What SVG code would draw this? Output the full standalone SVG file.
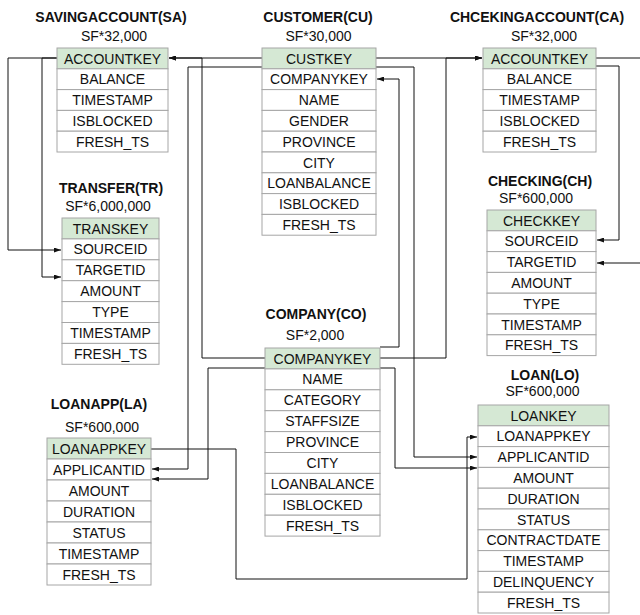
<svg xmlns="http://www.w3.org/2000/svg" width="640" height="615" viewBox="0 0 640 615">
<style>
.bg{fill:#fff}
.r{fill:#fff;stroke:#a6a6a6;stroke-width:1}
.k{fill:#d5e8d4;stroke:#a6a6a6;stroke-width:1}
.t{font-family:"Liberation Sans",Arial,sans-serif;font-size:14px;fill:#111;text-anchor:middle}
.h{font-family:"Liberation Sans",Arial,sans-serif;font-size:14px;font-weight:bold;fill:#111;text-anchor:middle}
.c{fill:none;stroke:#111;stroke-width:1}
.a{marker-end:url(#arr)}
</style>
<defs>
<marker id="arr" viewBox="0 0 7 5" refX="7" refY="2.5" markerWidth="7" markerHeight="5" orient="auto" markerUnits="userSpaceOnUse"><path d="M0,0 L7,2.5 L0,5 z" fill="#111"/></marker>
</defs>
<rect class="bg" x="0" y="0" width="640" height="615"/>
<g id="connectors">
<path class="c a" d="M57,58 H8 V250 H61"/>
<path class="c a" d="M57,58 H42 V277 H61"/>
<path class="c a" d="M262,58 H169"/>
<path class="c a" d="M265,358 H202 V58 H169"/>
<path class="c a" d="M376,58 H482"/>
<path class="c a" d="M380,358 H446 V58 H482"/>
<path class="c a" d="M596,66 H619 V240 H597"/>
<path class="c a" d="M596,58 H650 V263 H597"/>
<path class="c a" d="M380,347 H399 V79 H377"/>
<path class="c a" d="M262,67 H188 V469 H152"/>
<path class="c a" d="M265,368 H208 V479 H152"/>
<path class="c a" d="M380,368 H395 V468 H477"/>
<path class="c a" d="M376,67 H414 V457 H477"/>
<path class="c a" d="M151,449 H236 V579 H467 V437 H477"/>
</g>
<g id="SA">
<text class="h" x="111" y="22">SAVINGACCOUNT(SA)</text>
<text class="t" x="114" y="41">SF*32,000</text>
<rect class="k" x="57" y="48" width="111" height="20.8"/><text class="t" x="112.5" y="63.5">ACCOUNTKEY</text>
<rect class="r" x="57" y="68.8" width="111" height="20.8"/><text class="t" x="112.5" y="84.3">BALANCE</text>
<rect class="r" x="57" y="89.6" width="111" height="20.8"/><text class="t" x="112.5" y="105.1">TIMESTAMP</text>
<rect class="r" x="57" y="110.4" width="111" height="20.8"/><text class="t" x="112.5" y="125.9">ISBLOCKED</text>
<rect class="r" x="57" y="131.2" width="111" height="20.8"/><text class="t" x="112.5" y="146.7">FRESH_TS</text>
</g>
<g id="CU">
<text class="h" x="318" y="22">CUSTOMER(CU)</text>
<text class="t" x="318.5" y="41">SF*30,000</text>
<rect class="k" x="262" y="48" width="114" height="20.8"/><text class="t" x="319" y="63.5">CUSTKEY</text>
<rect class="r" x="262" y="68.8" width="114" height="20.8"/><text class="t" x="319" y="84.3">COMPANYKEY</text>
<rect class="r" x="262" y="89.6" width="114" height="20.8"/><text class="t" x="319" y="105.1">NAME</text>
<rect class="r" x="262" y="110.4" width="114" height="20.8"/><text class="t" x="319" y="125.9">GENDER</text>
<rect class="r" x="262" y="131.2" width="114" height="20.8"/><text class="t" x="319" y="146.7">PROVINCE</text>
<rect class="r" x="262" y="152" width="114" height="20.8"/><text class="t" x="319" y="167.5">CITY</text>
<rect class="r" x="262" y="172.8" width="114" height="20.8"/><text class="t" x="319" y="188.3">LOANBALANCE</text>
<rect class="r" x="262" y="193.6" width="114" height="20.8"/><text class="t" x="319" y="209.1">ISBLOCKED</text>
<rect class="r" x="262" y="214.4" width="114" height="20.8"/><text class="t" x="319" y="229.9">FRESH_TS</text>
</g>
<g id="CA">
<text class="h" x="537" y="22">CHCEKINGACCOUNT(CA)</text>
<text class="t" x="544" y="41">SF*32,000</text>
<rect class="k" x="483" y="48" width="113" height="20.8"/><text class="t" x="539.5" y="63.5">ACCOUNTKEY</text>
<rect class="r" x="483" y="68.8" width="113" height="20.8"/><text class="t" x="539.5" y="84.3">BALANCE</text>
<rect class="r" x="483" y="89.6" width="113" height="20.8"/><text class="t" x="539.5" y="105.1">TIMESTAMP</text>
<rect class="r" x="483" y="110.4" width="113" height="20.8"/><text class="t" x="539.5" y="125.9">ISBLOCKED</text>
<rect class="r" x="483" y="131.2" width="113" height="20.8"/><text class="t" x="539.5" y="146.7">FRESH_TS</text>
</g>
<g id="TR">
<text class="h" x="111" y="193">TRANSFER(TR)</text>
<text class="t" x="108" y="211">SF*6,000,000</text>
<rect class="k" x="62" y="218" width="97" height="20.9"/><text class="t" x="110.5" y="233.5">TRANSKEY</text>
<rect class="r" x="62" y="238.9" width="97" height="20.9"/><text class="t" x="110.5" y="254.4">SOURCEID</text>
<rect class="r" x="62" y="259.8" width="97" height="20.9"/><text class="t" x="110.5" y="275.3">TARGETID</text>
<rect class="r" x="62" y="280.7" width="97" height="20.9"/><text class="t" x="110.5" y="296.2">AMOUNT</text>
<rect class="r" x="62" y="301.6" width="97" height="20.9"/><text class="t" x="110.5" y="317.1">TYPE</text>
<rect class="r" x="62" y="322.5" width="97" height="20.9"/><text class="t" x="110.5" y="338">TIMESTAMP</text>
<rect class="r" x="62" y="343.4" width="97" height="20.9"/><text class="t" x="110.5" y="358.9">FRESH_TS</text>
</g>
<g id="CH">
<text class="h" x="540" y="186">CHECKING(CH)</text>
<text class="t" x="536" y="203">SF*600,000</text>
<rect class="k" x="487" y="210" width="109" height="20.8"/><text class="t" x="541.5" y="225.5">CHECKKEY</text>
<rect class="r" x="487" y="230.8" width="109" height="20.8"/><text class="t" x="541.5" y="246.3">SOURCEID</text>
<rect class="r" x="487" y="251.6" width="109" height="20.8"/><text class="t" x="541.5" y="267.1">TARGETID</text>
<rect class="r" x="487" y="272.4" width="109" height="20.8"/><text class="t" x="541.5" y="287.9">AMOUNT</text>
<rect class="r" x="487" y="293.2" width="109" height="20.8"/><text class="t" x="541.5" y="308.7">TYPE</text>
<rect class="r" x="487" y="314" width="109" height="20.8"/><text class="t" x="541.5" y="329.5">TIMESTAMP</text>
<rect class="r" x="487" y="334.8" width="109" height="20.8"/><text class="t" x="541.5" y="350.3">FRESH_TS</text>
</g>
<g id="CO">
<text class="h" x="316" y="319">COMPANY(CO)</text>
<text class="t" x="315" y="340">SF*2,000</text>
<rect class="k" x="265" y="348" width="115" height="20.9"/><text class="t" x="322.5" y="363.5">COMPANYKEY</text>
<rect class="r" x="265" y="368.9" width="115" height="20.9"/><text class="t" x="322.5" y="384.4">NAME</text>
<rect class="r" x="265" y="389.8" width="115" height="20.9"/><text class="t" x="322.5" y="405.3">CATEGORY</text>
<rect class="r" x="265" y="410.7" width="115" height="20.9"/><text class="t" x="322.5" y="426.2">STAFFSIZE</text>
<rect class="r" x="265" y="431.6" width="115" height="20.9"/><text class="t" x="322.5" y="447.1">PROVINCE</text>
<rect class="r" x="265" y="452.5" width="115" height="20.9"/><text class="t" x="322.5" y="468">CITY</text>
<rect class="r" x="265" y="473.4" width="115" height="20.9"/><text class="t" x="322.5" y="488.9">LOANBALANCE</text>
<rect class="r" x="265" y="494.3" width="115" height="20.9"/><text class="t" x="322.5" y="509.8">ISBLOCKED</text>
<rect class="r" x="265" y="515.2" width="115" height="20.9"/><text class="t" x="322.5" y="530.7">FRESH_TS</text>
</g>
<g id="LA">
<text class="h" x="99" y="409">LOANAPP(LA)</text>
<text class="t" x="102" y="432">SF*600,000</text>
<rect class="k" x="47" y="438" width="104" height="21"/><text class="t" x="99" y="453.5">LOANAPPKEY</text>
<rect class="r" x="47" y="459" width="104" height="21"/><text class="t" x="99" y="474.5">APPLICANTID</text>
<rect class="r" x="47" y="480" width="104" height="21"/><text class="t" x="99" y="495.5">AMOUNT</text>
<rect class="r" x="47" y="501" width="104" height="21"/><text class="t" x="99" y="516.5">DURATION</text>
<rect class="r" x="47" y="522" width="104" height="21"/><text class="t" x="99" y="537.5">STATUS</text>
<rect class="r" x="47" y="543" width="104" height="21"/><text class="t" x="99" y="558.5">TIMESTAMP</text>
<rect class="r" x="47" y="564" width="104" height="21"/><text class="t" x="99" y="579.5">FRESH_TS</text>
</g>
<g id="LO">
<text class="h" x="545" y="379.5">LOAN(LO)</text>
<text class="t" x="542.5" y="396">SF*600,000</text>
<rect class="k" x="478" y="405" width="131" height="20.8"/><text class="t" x="543.5" y="420.5">LOANKEY</text>
<rect class="r" x="478" y="425.8" width="131" height="20.8"/><text class="t" x="543.5" y="441.3">LOANAPPKEY</text>
<rect class="r" x="478" y="446.6" width="131" height="20.8"/><text class="t" x="543.5" y="462.1">APPLICANTID</text>
<rect class="r" x="478" y="467.4" width="131" height="20.8"/><text class="t" x="543.5" y="482.9">AMOUNT</text>
<rect class="r" x="478" y="488.2" width="131" height="20.8"/><text class="t" x="543.5" y="503.7">DURATION</text>
<rect class="r" x="478" y="509" width="131" height="20.8"/><text class="t" x="543.5" y="524.5">STATUS</text>
<rect class="r" x="478" y="529.8" width="131" height="20.8"/><text class="t" x="543.5" y="545.3">CONTRACTDATE</text>
<rect class="r" x="478" y="550.6" width="131" height="20.8"/><text class="t" x="543.5" y="566.1">TIMESTAMP</text>
<rect class="r" x="478" y="571.4" width="131" height="20.8"/><text class="t" x="543.5" y="586.9">DELINQUENCY</text>
<rect class="r" x="478" y="592.2" width="131" height="20.8"/><text class="t" x="543.5" y="607.7">FRESH_TS</text>
</g>
</svg>
